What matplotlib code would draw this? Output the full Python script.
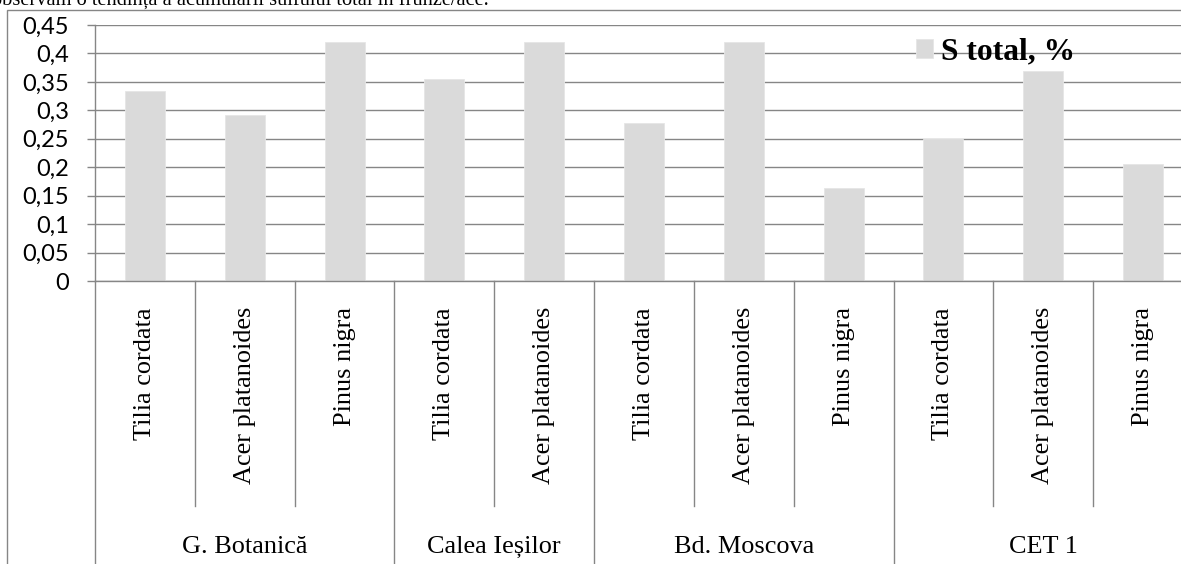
import matplotlib
matplotlib.use('Agg')
import matplotlib.pyplot as plt
from matplotlib.ticker import FuncFormatter, MultipleLocator
from matplotlib.patches import Rectangle
from matplotlib.transforms import blended_transform_factory

# data
groups = ['G. Botanică', 'Calea Ieșilor', 'Bd. Moscova', 'CET 1']
species = [
	['Tilia cordata', 'Acer platanoides', 'Pinus nigra'],
	['Tilia cordata', 'Acer platanoides'],
	['Tilia cordata', 'Acer platanoides', 'Pinus nigra'],
	['Tilia cordata', 'Acer platanoides', 'Pinus nigra'],
]
s_total = [0.334, 0.291, 0.42, 0.355, 0.42, 0.277, 0.42, 0.163, 0.25, 0.369, 0.206]
series_name = 'S total, %'
caption = 'observăm o tendința a acumulării sulfului total în frunze/ace.'

W, H = 1181, 564
grey = '#868686'
serif = ['Liberation Serif', 'DejaVu Serif']

fig = plt.figure(figsize=(W / 100, H / 100), dpi=100)
# plot area in pixels: left 95, right ~1193 (cut off), top 25, bottom 281
ax = fig.add_axes([95 / W, 1 - 281 / H, 1098 / W, 256 / H])

labels = [s for grp in species for s in grp]
xs = list(range(len(labels)))
ax.bar(xs, s_total, width=0.4, color='#dadada', edgecolor='#e6e6e6', linewidth=0.6,
	label=series_name, zorder=2)

ax.set_xlim(-0.5, len(labels) - 0.5)
ax.set_ylim(0, 0.45)
ax.yaxis.set_major_locator(MultipleLocator(0.05))
ax.yaxis.set_major_formatter(FuncFormatter(lambda v, p: ('%g' % round(v, 2)).replace('.', ',')))
ax.grid(axis='y', color=grey, linewidth=1.0, zorder=1)
ax.set_axisbelow(True)
for side in ['top', 'right']:
	ax.spines[side].set_visible(False)
for side in ['left', 'bottom']:
	ax.spines[side].set_color(grey)
	ax.spines[side].set_linewidth(1.0)
ax.tick_params(axis='y', direction='out', length=5.8, width=1.0, color=grey, pad=13,
	labelsize=17)
for t in ax.get_yticklabels():
	t.set_family(['Lato', 'DejaVu Sans'])
ax.set_xticks([])

# category axis: species labels, dividers and group labels
trans = blended_transform_factory(ax.transData, ax.transAxes)
for x, lab in zip(xs, labels):
	ax.text(x, -26 / 256, lab, rotation=90, ha='center', va='top', fontsize=18.9,
		family=serif, transform=trans)

bounds = [0]
for grp in species:
	bounds.append(bounds[-1] + len(grp))
for b in range(len(labels) + 1):
	bottom = -1.3 if b in bounds else -225 / 256
	ax.plot([b - 0.5, b - 0.5], [0, bottom], color=grey, linewidth=1.0,
		transform=trans, clip_on=False)
for g, name in enumerate(groups):
	mid = (bounds[g] + bounds[g + 1] - 1) / 2
	ax.text(mid, -266 / 256, name, ha='center', va='center', fontsize=18.9,
		family=serif, transform=trans)

# legend inside plot area, no frame
ax.legend(loc='center left', bbox_to_anchor=(900 / W, 1 - 52 / H), bbox_transform=fig.transFigure,
	frameon=False, borderpad=0, handlelength=0.55, handleheight=0.55, handletextpad=0.25,
	prop={'family': serif, 'weight': 'bold', 'size': 22.7})

# chart border (right and bottom edges are cut off in the page)
fig.patches.append(Rectangle((7 / W, -0.2), 1.2, 1.2 - 10 / H, transform=fig.transFigure,
	fill=False, edgecolor=grey, linewidth=1.0))

# bit of the paragraph above the chart, cut by the page edge as in the source
fig.text(-8 / W, 1 - 6 / H, caption, ha='left', va='baseline', fontsize=14.7, family=serif)

fig.savefig('out.png', dpi=100)
